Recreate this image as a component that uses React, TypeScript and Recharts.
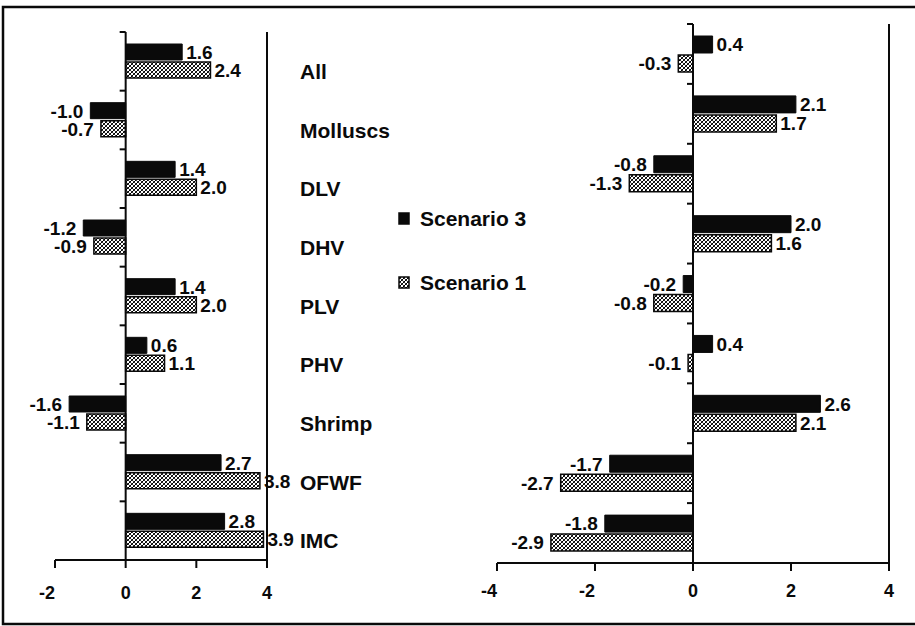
import React from 'react';
import { BarChart, Bar, XAxis, YAxis, ReferenceLine, LabelList } from 'recharts';

const categories = ['All', 'Molluscs', 'DLV', 'DHV', 'PLV', 'PHV', 'Shrimp', 'OFWF', 'IMC'];
const seriesNames = ['Scenario 3', 'Scenario 1'];
const leftScenario3 = [1.6, -1.0, 1.4, -1.2, 1.4, 0.6, -1.6, 2.7, 2.8];
const leftScenario1 = [2.4, -0.7, 2.0, -0.9, 2.0, 1.1, -1.1, 3.8, 3.9];
const rightScenario3 = [0.4, 2.1, -0.8, 2.0, -0.2, 0.4, 2.6, -1.7, -1.8];
const rightScenario1 = [-0.3, 1.7, -1.3, 1.6, -0.8, -0.1, 2.1, -2.7, -2.9];
const leftTicks = [-2, 0, 2, 4];
const rightTicks = [-4, -2, 0, 2, 4];

const leftData = categories.map((cat, i) => ({ cat, s3: leftScenario3[i], s1: leftScenario1[i] }));
const rightData = categories.map((cat, i) => ({ cat, s3: rightScenario3[i], s1: rightScenario1[i] }));

const FONT = '"Liberation Sans", Arial, Helvetica, sans-serif';
const INK = '#0a0a0a';

const HatchDefs = ({ id }: { id: string }) => (
  <defs>
    <pattern id={id} patternUnits="userSpaceOnUse" width="4" height="4">
      <rect x="0" y="0" width="4" height="4" fill="#ffffff" />
      <path d="M0,4 L4,0 M-1,1 L1,-1 M3,5 L5,3" stroke="#000" strokeWidth="1" />
      <path d="M0,0 L4,4" stroke="#000" strokeWidth="0.8" />
    </pattern>
  </defs>
);

const ValueLabel = (props: any) => {
  const { x, y, width, height, value } = props;
  const left = Math.min(x, x + width);
  const right = Math.max(x, x + width);
  const neg = value < 0;
  return (
    <text
      x={neg ? left - 7 : right + 4}
      y={y + height / 2}
      dy="0.36em"
      textAnchor={neg ? 'end' : 'start'}
      fontFamily={FONT}
      fontWeight="bold"
      fontSize={19}
      fill={INK}
    >
      {Number(value).toFixed(1)}
    </text>
  );
};

const XTick = (props: any) => {
  const { x, y, payload } = props;
  const v = payload.value;
  return (
    <text
      x={v < 0 ? x - 8 : x}
      y={y}
      dy="0.71em"
      textAnchor="middle"
      fontFamily={FONT}
      fontWeight="bold"
      fontSize={18}
      fill={INK}
    >
      {v}
    </text>
  );
};

const CatTick = (props: any) => {
  const { x, y, payload } = props;
  return (
    <text
      x={x}
      y={y + 10}
      dy="0.36em"
      textAnchor="start"
      fontFamily={FONT}
      fontWeight="bold"
      fontSize={21}
      fill={INK}
    >
      {payload.value}
    </text>
  );
};

const makeZeroAxis = (n: number) => (props: any) => {
  const { x1, y1, x2, y2 } = props;
  const top = Math.min(y1, y2);
  const bottom = Math.max(y1, y2);
  const step = (bottom - top) / n;
  const ticks = Array.from({ length: n + 1 }, (_, i) => top + i * step);
  return (
    <g>
      <line x1={x1} y1={top} x2={x2} y2={bottom} stroke={INK} strokeWidth={2} />
      {ticks.map((t, i) => (
        <line key={i} x1={x1 - 6} y1={t} x2={x1} y2={t} stroke={INK} strokeWidth={2} />
      ))}
    </g>
  );
};

const LegendBox = () => (
  <svg width={160} height={100} style={{ position: 'absolute', left: 390, top: 200 }}>
    <HatchDefs id="hatchLegend" />
    {seriesNames.map((name, i) => (
      <g key={name} transform={`translate(0, ${i * 64})`}>
        <rect
          x={9}
          y={13}
          width={10}
          height={11}
          fill={i === 0 ? INK : 'url(#hatchLegend)'}
          stroke={INK}
          strokeWidth={1.5}
        />
        <text x={30} y={18} dy="0.36em" fontFamily={FONT} fontWeight={700} fontSize={21} fill={INK}>
          {name}
        </text>
      </g>
    ))}
  </svg>
);

const Frame = () => (
  <svg width={915} height={626} style={{ position: 'absolute', left: 0, top: 0, pointerEvents: 'none' }}>
    <polyline points="915,7 3,7 3,624 915,624" fill="none" stroke={INK} strokeWidth={2.5} />
  </svg>
);

export default function App() {
  return (
    <div style={{ position: 'absolute', left: 0, top: 0, width: 915, height: 626, background: '#fff', overflow: 'hidden' }}>
      <div style={{ position: 'absolute', left: 0, top: 0 }}>
        <BarChart
          width={400}
          height={626}
          data={leftData}
          layout="vertical"
          margin={{ top: 32, right: 0, bottom: 16, left: 55 }}
          barSize={16}
          barGap={2}
        >
          <HatchDefs id="hatchLeft" />
          <XAxis
            type="number"
            domain={[-2, 4]}
            ticks={leftTicks}
            allowDataOverflow
            height={50}
            axisLine={{ stroke: INK, strokeWidth: 2 }}
            tickLine={{ stroke: INK, strokeWidth: 2 }}
            tickSize={8}
            tickMargin={18}
            tick={<XTick />}
          />
          <YAxis
            type="category"
            dataKey="cat"
            orientation="right"
            width={133}
            axisLine={{ stroke: INK, strokeWidth: 2 }}
            tickLine={false}
            tickSize={0}
            tickMargin={33}
            tick={<CatTick />}
            interval={0}
          />
          <ReferenceLine x={0} shape={makeZeroAxis(categories.length)} ifOverflow="visible" />
          <Bar dataKey="s3" name={seriesNames[0]} fill={INK} stroke={INK} strokeWidth={1} isAnimationActive={false}>
            <LabelList dataKey="s3" content={<ValueLabel />} />
          </Bar>
          <Bar dataKey="s1" name={seriesNames[1]} fill="url(#hatchLeft)" stroke={INK} strokeWidth={1.5} isAnimationActive={false}>
            <LabelList dataKey="s1" content={<ValueLabel />} />
          </Bar>
        </BarChart>
      </div>

      <div style={{ position: 'absolute', left: 400, top: 0 }}>
        <BarChart
          width={515}
          height={626}
          data={rightData}
          layout="vertical"
          margin={{ top: 24, right: 0, bottom: 13, left: 97 }}
          barSize={17}
          barGap={2}
        >
          <HatchDefs id="hatchRight" />
          <XAxis
            type="number"
            domain={[-4, 4]}
            ticks={rightTicks}
            allowDataOverflow
            height={50}
            axisLine={{ stroke: INK, strokeWidth: 2 }}
            tickLine={{ stroke: INK, strokeWidth: 2 }}
            tickSize={8}
            tickMargin={13}
            tick={<XTick />}
          />
          <YAxis
            type="category"
            dataKey="cat"
            orientation="right"
            width={26}
            axisLine={{ stroke: INK, strokeWidth: 2 }}
            tickLine={false}
            tick={false}
          />
          <ReferenceLine x={0} shape={makeZeroAxis(categories.length)} ifOverflow="visible" />
          <Bar dataKey="s3" name={seriesNames[0]} fill={INK} stroke={INK} strokeWidth={1} isAnimationActive={false}>
            <LabelList dataKey="s3" content={<ValueLabel />} />
          </Bar>
          <Bar dataKey="s1" name={seriesNames[1]} fill="url(#hatchRight)" stroke={INK} strokeWidth={1.5} isAnimationActive={false}>
            <LabelList dataKey="s1" content={<ValueLabel />} />
          </Bar>
        </BarChart>
      </div>

      <LegendBox />
      <Frame />
    </div>
  );
}
